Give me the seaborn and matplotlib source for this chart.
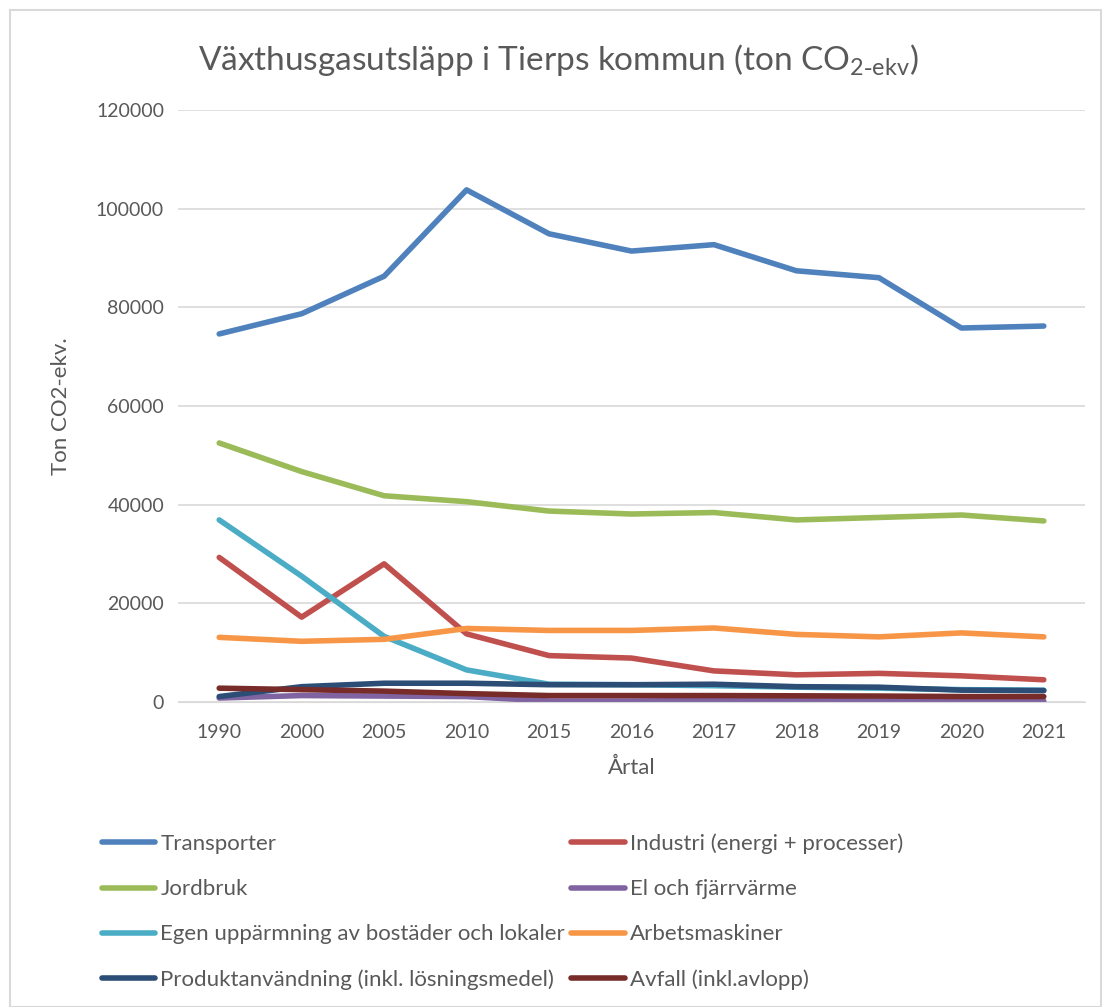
import pandas as pd
import matplotlib.pyplot as plt
import seaborn as sns
from matplotlib.patches import Rectangle

sns.set_style("white")
plt.rcParams['font.family'] = ['Lato', 'DejaVu Sans']

years = ["1990", "2000", "2005", "2010", "2015", "2016", "2017", "2018", "2019", "2020", "2021"]

transporter = [74600, 78700, 86300, 103800, 94900, 91400, 92700, 87400, 86000, 75800, 76200]
industri = [29300, 17200, 28000, 13800, 9400, 8900, 6300, 5500, 5800, 5300, 4500]
jordbruk = [52500, 46700, 41800, 40600, 38700, 38100, 38400, 36900, 37400, 37900, 36700]
el_fjarrvarme = [800, 1300, 1200, 1100, 200, 200, 300, 400, 200, 200, 200]
egen_uppvarmning = [36900, 25500, 13300, 6500, 3600, 3500, 3300, 3000, 2800, 2500, 2400]
arbetsmaskiner = [13100, 12300, 12700, 14900, 14500, 14500, 15000, 13700, 13200, 14000, 13200]
produktanvandning = [1100, 3100, 3800, 3800, 3500, 3500, 3600, 3100, 3000, 2400, 2300]
avfall = [2800, 2500, 2200, 1700, 1300, 1300, 1300, 1250, 1200, 1100, 1100]

series = {
    "Transporter": transporter,
    "Industri (energi + processer)": industri,
    "Jordbruk": jordbruk,
    "El och fjärrvärme": el_fjarrvarme,
    "Egen uppärmning av bostäder och lokaler": egen_uppvarmning,
    "Arbetsmaskiner": arbetsmaskiner,
    "Produktanvändning (inkl. lösningsmedel)": produktanvandning,
    "Avfall (inkl.avlopp)": avfall,
}
colors = {
    "Transporter": "#4F81BD",
    "Industri (energi + processer)": "#C0504D",
    "Jordbruk": "#9BBB59",
    "El och fjärrvärme": "#8064A2",
    "Egen uppärmning av bostäder och lokaler": "#4BACC6",
    "Arbetsmaskiner": "#F79646",
    "Produktanvändning (inkl. lösningsmedel)": "#2C4D75",
    "Avfall (inkl.avlopp)": "#772C2A",
}

rows = []
for name, vals in series.items():
    for yr, v in zip(years, vals):
        rows.append({"Årtal": yr, "Värde": v, "Sektor": name})
df = pd.DataFrame(rows)

fig = plt.figure(figsize=(11.02, 10.07), dpi=100)
ax = fig.add_axes([0.1615, 0.3029, 0.8231, 0.5879])

sns.lineplot(data=df, x="Årtal", y="Värde", hue="Sektor", palette=colors,
             hue_order=list(series.keys()), linewidth=4, sort=False,
             ax=ax, legend=False)

ax.set_xlim(-0.5, len(years) - 0.5)
ax.set_ylim(0, 120000)
ax.set_yticks(range(0, 120001, 20000))
ax.yaxis.grid(True, color="#D9D9D9", linewidth=1.2)
ax.xaxis.grid(False)
ax.set_axisbelow(True)
for s in ["top", "right", "left"]:
    ax.spines[s].set_visible(False)
ax.spines["bottom"].set_color("#D9D9D9")
ax.tick_params(axis="y", length=0, labelsize=14, labelcolor="#595959", pad=10)
ax.tick_params(axis="x", length=0, labelsize=14, labelcolor="#595959", pad=16)

ax.set_xlabel("Årtal", fontsize=16, color="#595959", labelpad=12)
ax.set_ylabel("Ton CO2-ekv.", fontsize=16, color="#595959", labelpad=18)
fig.text(0.507, 0.94, r"Växthusgasutsläpp i Tierps kommun (ton CO$_{\mathregular{2\text{-}ekv}}$)",
         ha="center", va="center", fontsize=24, color="#595959")

# legend, filled row by row like the original
order = ["Transporter", "Jordbruk", "Egen uppärmning av bostäder och lokaler",
         "Produktanvändning (inkl. lösningsmedel)",
         "Industri (energi + processer)", "El och fjärrvärme", "Arbetsmaskiner",
         "Avfall (inkl.avlopp)"]
handles = [plt.Line2D([], [], color=colors[n], linewidth=4) for n in order]
leg = fig.legend(handles, order, ncol=2, loc="upper left",
                 bbox_to_anchor=(0.074, 0.192), frameon=False,
                 fontsize=16, handlelength=2.4, handletextpad=0.25,
                 columnspacing=0.27, labelspacing=1.13)
for t in leg.get_texts():
    t.set_color("#595959")

fig.patches.append(Rectangle((0.009, 0.0), 0.99, 0.99, transform=fig.transFigure,
                             fill=False, edgecolor="#D9D9D9", linewidth=1.5))

plt.savefig("out.png", dpi=100)
